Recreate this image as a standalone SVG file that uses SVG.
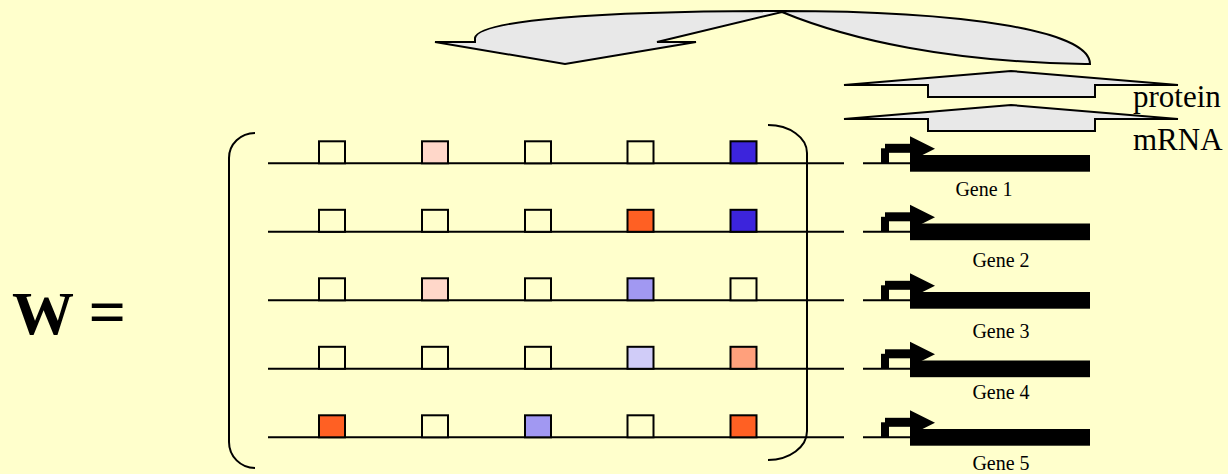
<svg xmlns="http://www.w3.org/2000/svg" width="1228" height="474" viewBox="0 0 1228 474">
<defs>
<style>
.bg{fill:#FFFFCC}
.ln{stroke:#000;stroke-width:2;fill:none}
.sq{stroke:#000;stroke-width:2}
.e{fill:#FFFFCC}
.pk{fill:#FFD7C9}
.bl{fill:#3C24DC}
.or{fill:#FF6023}
.lv{fill:#A198F2}
.ll{fill:#D0CCF8}
.sa{fill:#FFA07C}
.big{fill:#E8E8E8;stroke:#000;stroke-width:2;stroke-linejoin:miter}
.gl{font-family:"Liberation Serif","Times New Roman",serif;font-size:20px;fill:#000;text-anchor:middle}
.lbl{font-family:"Liberation Serif","Times New Roman",serif;font-size:31px;fill:#000}
</style>
<g id="genesym">
<line x1="863" y1="0" x2="910" y2="0" stroke="#000" stroke-width="2"/>
<rect x="881" y="-15" width="8" height="15" fill="#000"/>
<rect x="885" y="-19.5" width="27" height="9" fill="#000"/>
<polygon points="910,-27 935,-14.5 910,-2" fill="#000"/>
<rect x="910" y="-8.3" width="180" height="16.7" fill="#000"/>
</g>
</defs>
<rect class="bg" x="0" y="0" width="1228" height="474"/>

<g id="connectors">
<path id="feedback-arrow" class="big" d="M1090,64 C1090,30 960,11 782,11 C600,11 478,20 475,38 L475,42 L435,42 L565,64 L696,42 L657,42 L782,12 C850,40 950,62 1085,64 Z"/>
<path id="protein-arrow" class="big" d="M844,85 L1011,71 L1178,85 L1095,85 L1095,97 L928,97 L928,85 Z"/>
<path id="mrna-arrow" class="big" d="M844,119 L1011,105 L1178,119 L1095,119 L1095,131 L928,131 L928,119 Z"/>
</g>

<g id="labels">
<text class="lbl" x="1133" y="107">protein</text>
<text class="lbl" x="1133" y="150">mRNA</text>
<text x="12" y="334" font-family="'Liberation Serif','Times New Roman',serif" font-weight="bold" font-size="62">W <tspan font-size="66">=</tspan></text>
</g>

<g id="matrix">
<path class="ln" d="M255,133 A26,25 0 0 0 229,158 L229,442 A26,26 0 0 0 255,468"/>
<path class="ln" d="M768,125 A39,28 0 0 1 807,153 L807,431 A39,29 0 0 1 768,460"/>
<g id="row1" transform="translate(0,163.3)">
<line class="ln" x1="268" y1="0" x2="844" y2="0"/>
<rect class="sq e" x="319" y="-22" width="26" height="22"/>
<rect class="sq pk" x="422" y="-22" width="26" height="22"/>
<rect class="sq e" x="525" y="-22" width="26" height="22"/>
<rect class="sq e" x="627.5" y="-22" width="26" height="22"/>
<rect class="sq bl" x="730.5" y="-22" width="26" height="22"/>
</g>
<g id="row2" transform="translate(0,231.8)">
<line class="ln" x1="268" y1="0" x2="844" y2="0"/>
<rect class="sq e" x="319" y="-22" width="26" height="22"/>
<rect class="sq e" x="422" y="-22" width="26" height="22"/>
<rect class="sq e" x="525" y="-22" width="26" height="22"/>
<rect class="sq or" x="627.5" y="-22" width="26" height="22"/>
<rect class="sq bl" x="730.5" y="-22" width="26" height="22"/>
</g>
<g id="row3" transform="translate(0,300.3)">
<line class="ln" x1="268" y1="0" x2="844" y2="0"/>
<rect class="sq e" x="319" y="-22" width="26" height="22"/>
<rect class="sq pk" x="422" y="-22" width="26" height="22"/>
<rect class="sq e" x="525" y="-22" width="26" height="22"/>
<rect class="sq lv" x="627.5" y="-22" width="26" height="22"/>
<rect class="sq e" x="730.5" y="-22" width="26" height="22"/>
</g>
<g id="row4" transform="translate(0,368.8)">
<line class="ln" x1="268" y1="0" x2="844" y2="0"/>
<rect class="sq e" x="319" y="-22" width="26" height="22"/>
<rect class="sq e" x="422" y="-22" width="26" height="22"/>
<rect class="sq e" x="525" y="-22" width="26" height="22"/>
<rect class="sq ll" x="627.5" y="-22" width="26" height="22"/>
<rect class="sq sa" x="730.5" y="-22" width="26" height="22"/>
</g>
<g id="row5" transform="translate(0,437.3)">
<line class="ln" x1="268" y1="0" x2="844" y2="0"/>
<rect class="sq or" x="319" y="-22" width="26" height="22"/>
<rect class="sq e" x="422" y="-22" width="26" height="22"/>
<rect class="sq lv" x="525" y="-22" width="26" height="22"/>
<rect class="sq e" x="627.5" y="-22" width="26" height="22"/>
<rect class="sq or" x="730.5" y="-22" width="26" height="22"/>
</g>
</g>

<g id="gene1"><use href="#genesym" transform="translate(0,163.3)"/><text class="gl" x="984" y="196">Gene 1</text></g>
<g id="gene2"><use href="#genesym" transform="translate(0,231.8)"/><text class="gl" x="1001" y="267">Gene 2</text></g>
<g id="gene3"><use href="#genesym" transform="translate(0,300.3)"/><text class="gl" x="1001" y="338">Gene 3</text></g>
<g id="gene4"><use href="#genesym" transform="translate(0,368.8)"/><text class="gl" x="1001" y="399">Gene 4</text></g>
<g id="gene5"><use href="#genesym" transform="translate(0,437.3)"/><text class="gl" x="1001" y="470">Gene 5</text></g>
</svg>
